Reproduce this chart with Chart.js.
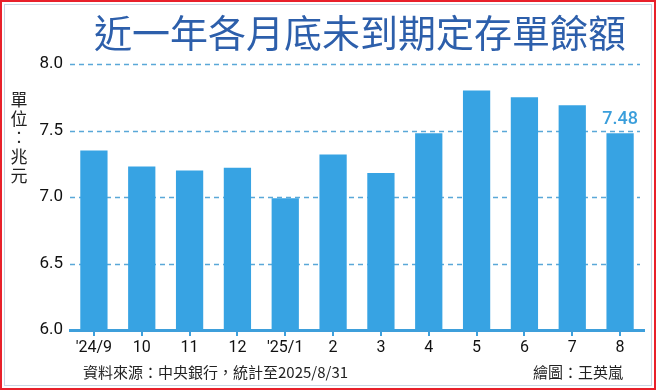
<!DOCTYPE html>
<html>
<head>
<meta charset="utf-8">
<script src="https://cdn.jsdelivr.net/npm/chart.js@4.4.1/dist/chart.umd.min.js"></script>
<style>
  html, body { margin: 0; padding: 0; background: #fff; }
  #wrap { position: relative; width: 656px; height: 390px; overflow: hidden; background: #fff; }
  #frame { position: absolute; left: 0; top: 0; width: 652px; height: 386px; border: 2px solid #e8202a; pointer-events: none; }
  #inner { position: absolute; left: 4px; top: 4px; width: 646px; height: 380px; border: 1px solid #c9d6e4; pointer-events: none; }
  #title { position: absolute; left: 94px; top: 8px; white-space: nowrap; font-family: "Noto Sans CJK TC", "Noto Sans CJK SC", sans-serif; font-size: 38px; font-weight: 400; color: #2d5fab; line-height: 46px; }
  #unit { position: absolute; left: 8px; top: 89px; width: 22px; text-align: center; font-family: "Noto Sans CJK TC", sans-serif; font-size: 17px; line-height: 19px; color: #222; }
  #src { position: absolute; left: 83px; top: 361px; font-family: "Noto Sans CJK TC", sans-serif; font-size: 15px; line-height: 22px; color: #222; }
  #art { position: absolute; right: 33px; top: 361px; font-family: "Noto Sans CJK TC", sans-serif; font-size: 15px; line-height: 22px; color: #222; }
  #c { position: absolute; left: 0; top: 0; }
</style>
</head>
<body>
<div id="wrap">
  <canvas id="c" width="656" height="390"></canvas>
  <div id="title">近一年各月底未到期定存單餘額</div>
  <div id="unit">單<br>位<br>︰<br>兆<br>元</div>
  <div id="src">資料來源：中央銀行，統計至2025/8/31</div>
  <div id="art">繪圖：王英嵐</div>
  <div id="frame"></div>
  <div id="inner"></div>
</div>
<script>
const categories = ["'24/9", "10", "11", "12", "'25/1", "2", "3", "4", "5", "6", "7", "8"];
const values = [7.35, 7.23, 7.20, 7.22, 6.99, 7.32, 7.18, 7.48, 7.80, 7.75, 7.69, 7.48];
const yTicks = [6.0, 6.5, 7.0, 7.5, 8.0];
const labelIndex = 11;

const barColor = '#37a3e3';
const lineColor = '#3e9fdb';
const gridColor = '#5aa8d8';

const dashedGrid = {
  id: 'dashedGrid',
  beforeDatasetsDraw(chart) {
    const y = chart.scales.y;
    const area = chart.chartArea;
    const ctx = chart.ctx;
    ctx.save();
    ctx.strokeStyle = gridColor;
    ctx.lineWidth = 1.5;
    ctx.setLineDash([5, 4]);
    yTicks.forEach(v => {
      if (v === y.min) return;
      const py = Math.round(y.getPixelForValue(v)) + 0.5;
      ctx.beginPath();
      ctx.moveTo(area.left, py);
      ctx.lineTo(area.right - 4, py);
      ctx.stroke();
    });
    ctx.restore();
  }
};

const lastLabel = {
  id: 'lastLabel',
  afterDatasetsDraw(chart) {
    const meta = chart.getDatasetMeta(0);
    const bar = meta.data[labelIndex];
    const ctx = chart.ctx;
    ctx.save();
    ctx.fillStyle = '#3a9edb';
    ctx.font = '500 18px Roboto, "DejaVu Sans", sans-serif';
    ctx.textAlign = 'center';
    ctx.textBaseline = 'bottom';
    ctx.fillText(values[labelIndex].toFixed(2), bar.x, bar.y - 5);
    ctx.restore();
  }
};

new Chart(document.getElementById('c'), {
  type: 'bar',
  data: {
    labels: categories,
    datasets: [{
      data: values,
      backgroundColor: barColor,
      borderWidth: 0,
      categoryPercentage: 1.0,
      barPercentage: 0.57
    }]
  },
  options: {
    responsive: false,
    animation: false,
    events: [],
    layout: { padding: { left: 0, right: 12, top: 64, bottom: 0 } },
    plugins: { legend: { display: false }, tooltip: { enabled: false } },
    scales: {
      x: {
        afterFit(scale) { scale.height = 60; },
        grid: {
          display: true,
          drawOnChartArea: false,
          drawTicks: true,
          tickLength: 6,
          offset: false,
          color: lineColor,
          lineWidth: 2
        },
        border: { display: true, color: lineColor, width: 3 },
        ticks: {
          color: '#111',
          padding: 2,
          font: { family: 'Roboto, "DejaVu Sans", sans-serif', size: 16 },
          maxRotation: 0,
          autoSkip: false
        }
      },
      y: {
        min: 6.0,
        max: 8.0,
        afterFit(scale) { scale.width = 70; },
        afterBuildTicks(scale) { scale.ticks = yTicks.map(v => ({ value: v })); },
        grid: { display: false, drawTicks: false },
        border: { display: false },
        ticks: {
          color: '#111',
          padding: 7,
          font: { family: 'Roboto, "DejaVu Sans", sans-serif', size: 17 },
          callback: (v) => Number(v).toFixed(1)
        }
      }
    }
  },
  plugins: [dashedGrid, lastLabel]
});
</script>
</body>
</html>
